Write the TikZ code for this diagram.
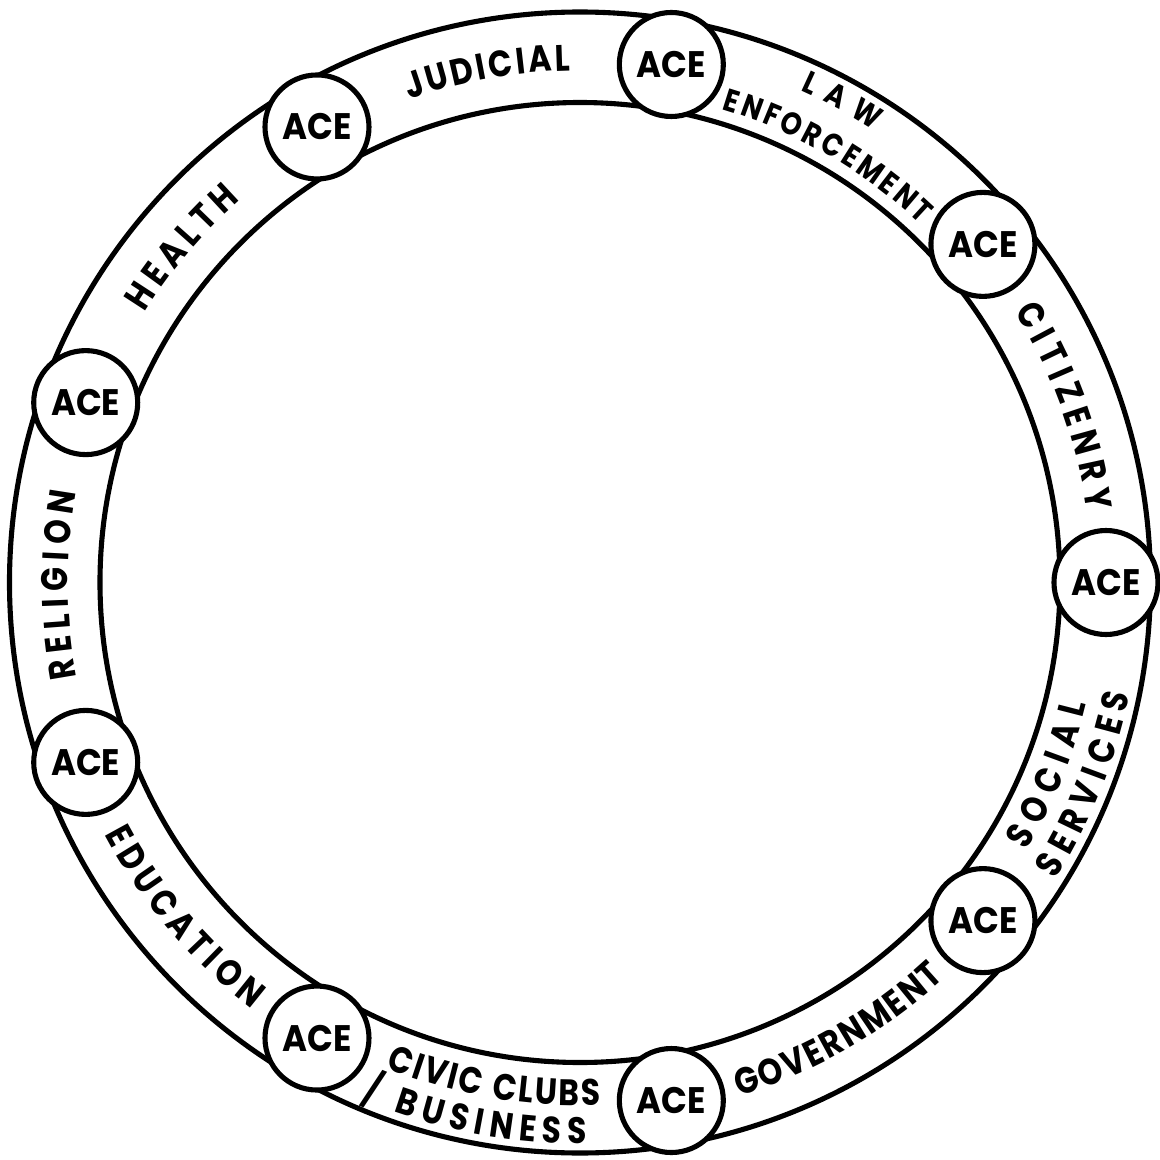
\documentclass[tikz,border=0pt]{standalone}
\usepackage{fontspec}
\usetikzlibrary{decorations.text}
\newfontfamily\letterfont{Poppins}[FakeStretch=0.85]
\newfontfamily\acelettersfont{Poppins}[FakeStretch=0.92]
\newcommand\acefont{\acelettersfont\bfseries\fontsize{10.5}{12}\selectfont}
\newcommand\ringfont{\letterfont\bfseries\fontsize{10.5}{12}\selectfont}
\newcommand\smallringfont{\letterfont\bfseries\fontsize{9}{10}\selectfont}

\begin{document}
\begin{tikzpicture}[line width=1.45pt,every node/.style={font=\acefont},
  ace/.style={circle,draw,fill=white,minimum size=1.04cm,inner sep=0pt},
  ringtext/.style={decorate,decoration={text along path,text align={fit to path}}}]
  \useasboundingbox (-5.80,-5.775) rectangle (5.79,5.825);
  \coordinate (o) at (0,0);
  \draw (o) circle (5.705);
  \draw (o) circle (4.80);
  \path[ringtext,decoration={text={|\ringfont|CITIZENRY}}] (32:5.12) arc[start angle=32,end angle=8,radius=5.12];
  \path[ringtext,decoration={text={|\smallringfont|LAW}}] (65.9:5.39) arc[start angle=65.9,end angle=57,radius=5.39];
  \path[ringtext,decoration={text={|\smallringfont|ENFORCEMENT}}] (73.3:4.94) arc[start angle=73.3,end angle=46.4,radius=4.94];
  \path[ringtext,decoration={text={|\ringfont|JUDICIAL}}] (109.4:5.12) arc[start angle=109.4,end angle=91.1,radius=5.12];
  \path[ringtext,decoration={text={|\ringfont|HEALTH}}] (148.2:5.12) arc[start angle=148.2,end angle=131.6,radius=5.12];
  \path[ringtext,decoration={text={|\ringfont|RELIGION}}] (190.7:5.12) arc[start angle=190.7,end angle=169.8,radius=5.12];
  \path[ringtext,decoration={text={|\ringfont|EDUCATION}}] (207.9:5.38) arc[start angle=207.9,end angle=232.5,radius=5.38];
  \path[ringtext,decoration={text={|\ringfont|CIVIC CLUBS}}] (248.2:5.23) arc[start angle=248.2,end angle=272.3,radius=5.23];
  \path[ringtext,decoration={text={|\ringfont|/ BUSINESS}}] (247.1:5.61) arc[start angle=247.1,end angle=270.7,radius=5.61];
  \path[ringtext,decoration={text={|\ringfont|GOVERNMENT}}] (287.2:5.38) arc[start angle=287.2,end angle=312.7,radius=5.38];
  \path[ringtext,decoration={text={|\ringfont|SOCIAL}}] (329:5.21) arc[start angle=329,end angle=346.5,radius=5.21];
  \path[ringtext,decoration={text={|\ringfont|SERVICES}}] (328:5.61) arc[start angle=328,end angle=348.5,radius=5.61];
  \node[ace] (ace0) at (0:5.26) {ACE};
  \node[ace] (ace1) at (40:5.26) {ACE};
  \node[ace] (ace2) at (80:5.26) {ACE};
  \node[ace] (ace3) at (120:5.26) {ACE};
  \node[ace] (ace4) at (160:5.26) {ACE};
  \node[ace] (ace5) at (200:5.26) {ACE};
  \node[ace] (ace6) at (240:5.26) {ACE};
  \node[ace] (ace7) at (280:5.26) {ACE};
  \node[ace] (ace8) at (320:5.26) {ACE};
\end{tikzpicture}
\end{document}
